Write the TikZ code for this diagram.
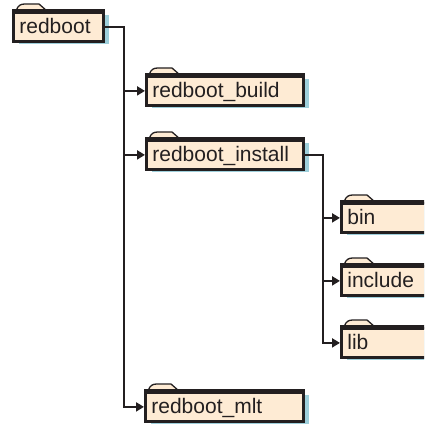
\documentclass[tikz,border=0pt]{standalone}
\usepackage{fontspec}
\setmainfont{Liberation Sans}
\usetikzlibrary{shadows,arrows.meta,calc}
\definecolor{cream}{HTML}{FEEBD4}
\definecolor{shade}{HTML}{9ECFDB}
\definecolor{ink}{HTML}{231F20}
\tikzset{
 folder/.style={draw=ink, line width=2.8pt, fill=cream, anchor=north west,
   minimum height=29pt, inner xsep=6pt, inner ysep=0pt, text height=16pt,
   text depth=2pt, font=\fontsize{21}{24}\selectfont, text=ink, align=left,
   general shadow={fill=shade, shadow xshift=6pt, shadow yshift=-3pt}},
 tab/.style={fill=cream, draw=ink, line width=1.3pt},
 topline/.style={draw=ink, line width=3.4pt},
 conn/.style={draw=ink, line width=2.6pt, -{Triangle[length=8pt,width=9pt]}}
}
\newcommand\foldertab[1]{%
 \path[tab] ($(#1.north west)+(4,0)$) .. controls +(2,-6) and +(-4,0) ..
   ($(#1.north west)+(13,-7)$) -- ($(#1.north west)+(27,-7)$) -- ($(#1.north west)+(35,0)$);
 \draw[topline] (#1.north west) -- (#1.north east);}
\begin{document}
\begin{tikzpicture}[x=1pt,y=-1pt]
\useasboundingbox (0,0) rectangle (424,425);
\clip (0,0) rectangle (424,425);
\node[folder, text width=78pt] (rb) at (12,11) {redboot};
\node[folder, text width=145pt] (build) at (145,75) {redboot\_build};
\node[folder, text width=145pt] (install) at (145,139) {redboot\_install};
\node[folder, text width=100pt] (bin) at (340,202) {bin};
\node[folder, text width=100pt] (include) at (340,265) {include};
\node[folder, text width=100pt] (lib) at (340,327) {lib};
\node[folder, text width=146pt] (mlt) at (144,391) {redboot\_mlt};
\foreach \n in {rb,build,install,bin,include,lib,mlt}{\foldertab{\n}}
\coordinate (t1) at (124,0);
\coordinate (t2) at (323,0);
\draw[conn] (rb.east) -| (t1 |- build.west) -- (build.west);
\draw[conn] (rb.east) -| (t1 |- install.west) -- (install.west);
\draw[conn] (rb.east) -| (t1 |- mlt.west) -- (mlt.west);
\draw[conn] (install.east) -| (t2 |- bin.west) -- (bin.west);
\draw[conn] (install.east) -| (t2 |- include.west) -- (include.west);
\draw[conn] (install.east) -| (t2 |- lib.west) -- (lib.west);
\end{tikzpicture}
\end{document}
